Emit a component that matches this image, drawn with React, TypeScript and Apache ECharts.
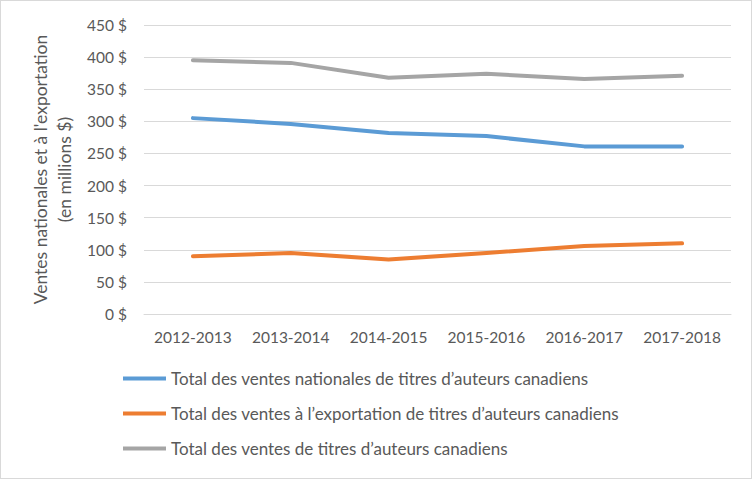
import React, { useEffect, useRef } from "react";
import * as echarts from "echarts";

const categories = ["2012-2013", "2013-2014", "2014-2015", "2015-2016", "2016-2017", "2017-2018"];
const seriesNames = [
  "Total des ventes nationales de titres d’auteurs canadiens",
  "Total des ventes à l’exportation de titres d’auteurs canadiens",
  "Total des ventes de titres d’auteurs canadiens",
];
const nationales = [305, 296, 282, 277, 261, 261];
const exportation = [90, 95, 85, 95, 106, 110];
const total = [395, 391, 368, 374, 366, 371];
const colors = ["#5b9bd5", "#ed7d31", "#a5a5a5"];

export default function App() {
  const ref = useRef<HTMLDivElement>(null);
  useEffect(() => {
    if (!ref.current) return;
    const chart = echarts.init(ref.current, undefined, { renderer: "svg" });
    const font = "Lato";
    const mk = (name: string, data: number[], color: string) => ({
      name,
      type: "line",
      data,
      symbol: "none",
      lineStyle: { color, width: 4, cap: "round", join: "round" },
      itemStyle: { color },
    });
    chart.setOption({
      animation: false,
      textStyle: { fontFamily: font },
      grid: { left: 143, right: 20, top: 24, bottom: 164 },
      legend: {
        orient: "vertical",
        left: 117,
        top: 364,
        itemWidth: 43,
        itemHeight: 4,
        itemGap: 18,
        icon: "rect",
        textStyle: { fontSize: 17, color: "#595959", fontFamily: font },
        data: seriesNames,
      },
      xAxis: {
        type: "category",
        data: categories,
        boundaryGap: true,
        axisLine: { show: true, lineStyle: { color: "#d9d9d9", width: 1 } },
        axisTick: { show: false },
        axisLabel: { color: "#595959", fontSize: 15.5, margin: 15, fontFamily: font, interval: 0 },
      },
      yAxis: {
        type: "value",
        min: 0,
        max: 450,
        interval: 50,
        name: "Ventes nationales et à l'exportation\n(en millions $)",
        nameLocation: "middle",
        nameRotate: 90,
        nameGap: 68,
        nameTextStyle: { color: "#595959", fontSize: 17.5, lineHeight: 24, fontFamily: font },
        axisLine: { show: false },
        axisTick: { show: false },
        splitLine: { lineStyle: { color: "#d9d9d9", width: 1 } },
        axisLabel: {
          color: "#595959",
          fontSize: 15.5,
          margin: 17,
          fontFamily: font,
          formatter: (v: number) => `${v} $`,
        },
      },
      series: [
        mk(seriesNames[0], nationales, colors[0]),
        mk(seriesNames[1], exportation, colors[1]),
        mk(seriesNames[2], total, colors[2]),
      ],
    });
    return () => chart.dispose();
  }, []);
  return (
    <div
      style={{
        position: "fixed",
        left: 0,
        top: 0,
        width: 752,
        height: 479,
        boxSizing: "border-box",
        border: "1px solid #d9d9d9",
        background: "#fff",
      }}
    >
      <div ref={ref} style={{ width: 750, height: 477 }} />
    </div>
  );
}
